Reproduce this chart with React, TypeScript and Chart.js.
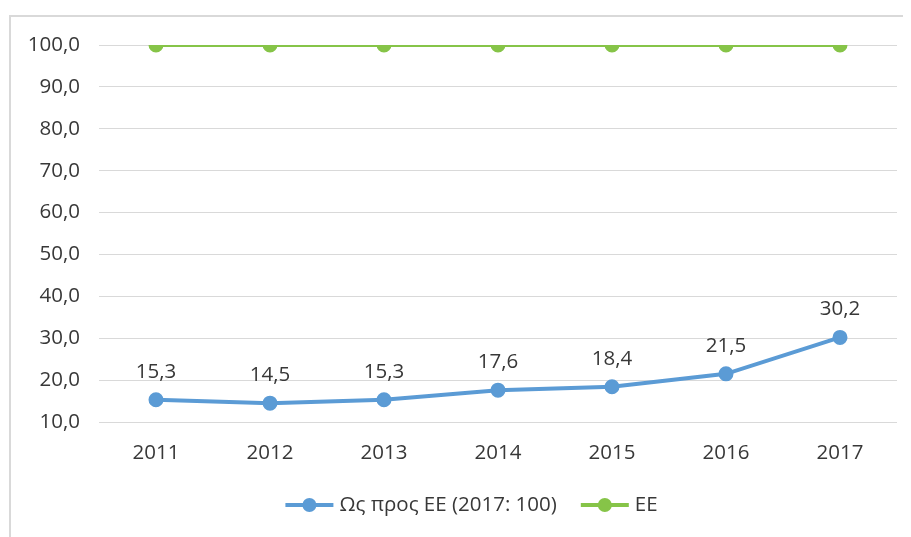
import React, { useEffect, useRef } from 'react';
import { Chart, registerables } from 'chart.js';

Chart.register(...registerables);

const years = ['2011', '2012', '2013', '2014', '2015', '2016', '2017'];
const relativeValues = [15.3, 14.5, 15.3, 17.6, 18.4, 21.5, 30.2];
const euValues = [100, 100, 100, 100, 100, 100, 100];
const seriesNames = ['Ως προς ΕΕ (2017: 100)', 'ΕΕ'];
const yMin = 10;
const yMax = 100;
const yStep = 10;

const BLUE = 'rgb(91,155,213)';
const GREEN = 'rgb(134,196,72)';
const TEXT = '#383838';
const FONT_FAMILY = '"Open Sans", "DejaVu Sans", sans-serif';
const FONT_SIZE = 20.5;

const fmt = (v: number) => v.toFixed(1).replace('.', ',');

const W = 903;
const H = 529;

export default function App() {
  const ref = useRef<HTMLCanvasElement | null>(null);

  useEffect(() => {
    if (!ref.current) return;

    const framePlugin = {
      id: 'frame',
      beforeDraw(chart: any) {
        const { ctx } = chart;
        ctx.save();
        ctx.fillStyle = '#ffffff';
        ctx.fillRect(0, 0, chart.width, chart.height);
        ctx.strokeStyle = '#d9d9d9';
        ctx.lineWidth = 2;
        ctx.beginPath();
        ctx.moveTo(2, chart.height);
        ctx.lineTo(2, 8);
        ctx.lineTo(chart.width, 8);
        ctx.stroke();
        ctx.restore();
      },
    };

    const labelPlugin = {
      id: 'valueLabels',
      afterDatasetsDraw(chart: any) {
        const { ctx } = chart;
        const meta = chart.getDatasetMeta(0);
        ctx.save();
        ctx.font = `${FONT_SIZE}px ${FONT_FAMILY}`;
        ctx.fillStyle = TEXT;
        ctx.textAlign = 'center';
        ctx.textBaseline = 'middle';
        meta.data.forEach((pt: any, i: number) => {
          ctx.fillText(fmt(relativeValues[i]), pt.x, pt.y - 28);
        });
        ctx.restore();
      },
    };

    const legendPlugin = {
      id: 'customLegend',
      afterDraw(chart: any) {
        const { ctx } = chart;
        const colors = [BLUE, GREEN];
        const symW = 48;
        const gapText = 6;
        const gapItem = 24;
        ctx.save();
        ctx.font = `${FONT_SIZE}px ${FONT_FAMILY}`;
        const widths = seriesNames.map((n) => ctx.measureText(n).width);
        const total =
          widths.reduce((a, w) => a + symW + gapText + w, 0) + gapItem * (seriesNames.length - 1);
        let x = 463.5 - total / 2;
        const y = 497;
        seriesNames.forEach((name, i) => {
          ctx.strokeStyle = colors[i];
          ctx.lineWidth = 4;
          ctx.beginPath();
          ctx.moveTo(x, y);
          ctx.lineTo(x + symW, y);
          ctx.stroke();
          ctx.fillStyle = colors[i];
          ctx.beginPath();
          ctx.arc(x + symW / 2, y, 7, 0, Math.PI * 2);
          ctx.fill();
          ctx.fillStyle = TEXT;
          ctx.textAlign = 'left';
          ctx.textBaseline = 'middle';
          ctx.fillText(name, x + symW + gapText, y);
          x += symW + gapText + widths[i] + gapItem;
        });
        ctx.restore();
      },
    };

    const chart = new Chart(ref.current, {
      type: 'line',
      data: {
        labels: years,
        datasets: [
          {
            label: seriesNames[0],
            data: relativeValues,
            borderColor: BLUE,
            backgroundColor: BLUE,
            borderWidth: 4,
            pointRadius: 6.5,
            pointBorderWidth: 2,
            pointBorderColor: BLUE,
            pointBackgroundColor: BLUE,
            tension: 0,
          },
          {
            label: seriesNames[1],
            data: euValues,
            borderColor: GREEN,
            backgroundColor: GREEN,
            borderWidth: 4,
            pointRadius: 6.5,
            pointBorderWidth: 2,
            pointBorderColor: GREEN,
            pointBackgroundColor: GREEN,
            tension: 0,
          },
        ],
      },
      options: {
        responsive: false,
        animation: false,
        layout: { padding: { top: 37, left: 0, right: 14, bottom: 65 } },
        plugins: {
          legend: { display: false },
          tooltip: { enabled: false },
          title: { display: false },
        },
        scales: {
          x: {
            offset: true,
            grid: { display: false },
            border: { display: false },
            ticks: {
              color: TEXT,
              font: { family: FONT_FAMILY, size: FONT_SIZE },
              padding: 11,
              maxRotation: 0,
            },
            afterFit(scale: any) {
              scale.height = 50;
            },
          },
          y: {
            min: yMin,
            max: yMax,
            grid: { color: '#d9d9d9', lineWidth: 1, drawTicks: false },
            border: { display: false },
            ticks: {
              stepSize: yStep,
              color: TEXT,
              font: { family: FONT_FAMILY, size: FONT_SIZE },
              padding: 19,
              callback: (v: any) => fmt(Number(v)),
            },
            afterFit(scale: any) {
              scale.width = 91;
            },
          },
        },
      },
      plugins: [framePlugin, labelPlugin, legendPlugin],
    });

    return () => chart.destroy();
  }, []);

  return (
    <div style={{ width: W, height: H }}>
      <canvas ref={ref} width={W} height={H} style={{ display: 'block' }} />
    </div>
  );
}
